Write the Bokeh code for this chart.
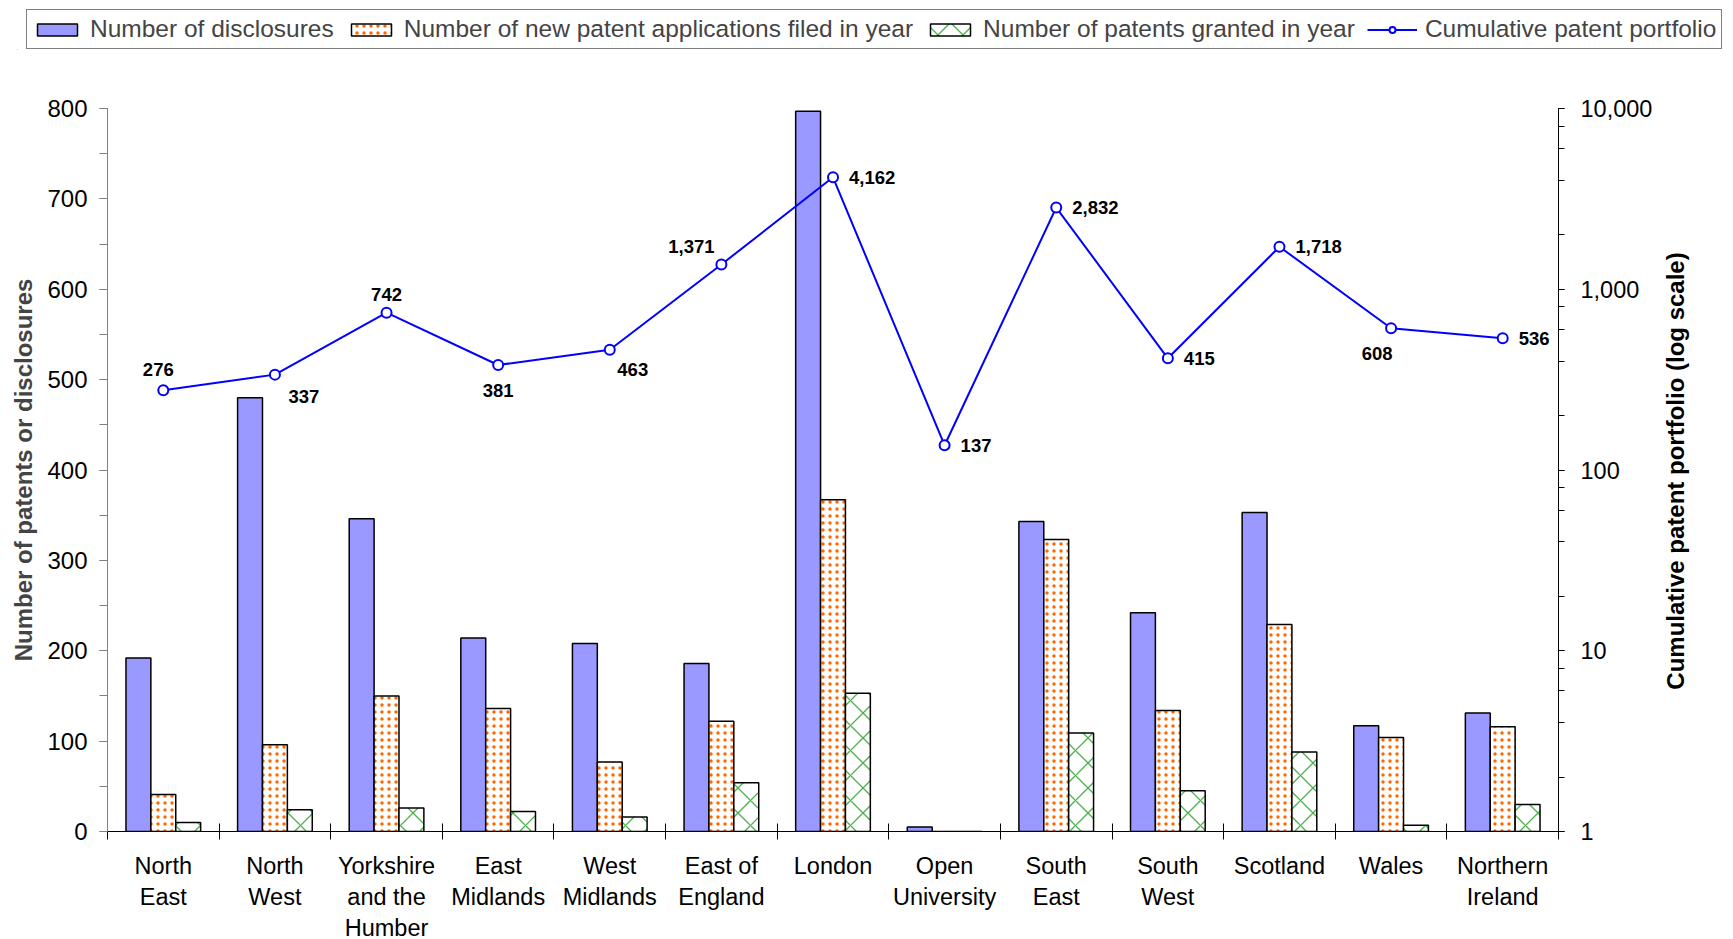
import math
from bokeh.plotting import figure
from bokeh.layouts import column, row
from bokeh.models import (Range1d, LinearAxis, LogAxis, LogScale, FixedTicker,
                          SingleIntervalTicker, LogTicker, NumeralTickFormatter,
                          Legend, LegendItem, ColumnDataSource, LabelSet, Label)
from bokeh.embed import file_html
from bokeh.resources import INLINE
from bokeh.core.properties import value

# ---------------- data ----------------
regions = ["North\nEast", "North\nWest", "Yorkshire\nand the\nHumber", "East\nMidlands",
           "West\nMidlands", "East of\nEngland", "London", "Open\nUniversity",
           "South\nEast", "South\nWest", "Scotland", "Wales", "Northern\nIreland"]
disclosures = [192, 480, 346, 214, 208, 186, 797, 5, 343, 242, 353, 117, 131]
applications = [41, 96, 150, 136, 77, 122, 367, 0, 323, 134, 229, 104, 116]
granted = [10, 24, 26, 22, 16, 54, 153, 0, 109, 45, 88, 7, 30]
portfolio = [276, 337, 742, 381, 463, 1371, 4162, 137, 2832, 415, 1718, 608, 536]

series_names = ["Number of disclosures",
                "Number of new patent applications filed in year",
                "Number of patents granted in year",
                "Cumulative patent portfolio"]
left_title = "Number of patents or disclosures"
right_title = "Cumulative patent portfolio (log scale)"

# label placement for the cumulative values (screen px offsets from marker, dy>0 = down)
label_place = [(-5, -21, "center"), (29, 22, "center"), (0, -18, "center"),
               (0, 26, "center"), (23, 20, "center"), (-30, -18, "center"),
               (16, 0, "left"), (16, 0, "left"), (16, 0, "left"), (16, 0, "left"),
               (16, 0, "left"), (-14, 25, "center"), (16, 0, "left")]

# ---------------- styles ----------------
FONT = "Liberation Sans"
DISC = dict(fill_color="#9999FF", line_color="black", line_width=1.5)
APP = dict(fill_color="white", line_color="black", line_width=1.5,
           hatch_pattern="dot", hatch_color="#FF6600", hatch_scale=7, hatch_weight=6)
GR = dict(fill_color="white", line_color="black", line_width=1.5,
          hatch_pattern="diagonal_cross", hatch_color="#4CB04C", hatch_scale=25,
          hatch_weight=1.3)
LINE = dict(line_color="#0000FF", line_width=2)
PTS = dict(marker="circle", size=10, fill_color="white", line_color="#0000FF", line_width=2)

# ---------------- layout ----------------
TOTAL_W = 1733
LEG_H = 50
RT_W = 78                      # strip at the right that holds the right-hand title
W = TOTAL_W - RT_W
H = 960 - LEG_H
ML, MT, MB = 107, 108 - LEG_H, 129
MR = W - 1559
n = len(regions)
frame_h = H - MT - MB

p = figure(width=W, height=H, x_range=Range1d(0, n), y_range=Range1d(0, 800),
           x_axis_type=None, y_axis_type=None,
           output_backend="svg", toolbar_location=None,
           min_border_left=ML, min_border_right=MR,
           min_border_top=MT, min_border_bottom=MB)
p.outline_line_color = None
p.background_fill_color = "white"
p.border_fill_color = "white"
p.extra_y_ranges = {"log": Range1d(1, 10000)}
p.extra_y_scales = {"log": LogScale()}

# left axis
la = LinearAxis(ticker=SingleIntervalTicker(interval=100, num_minor_ticks=2))
la.axis_line_color = "#808080"
la.major_tick_line_color = "#808080"
la.minor_tick_line_color = "#808080"
la.major_tick_in = 0
la.major_tick_out = 8
la.minor_tick_in = 0
la.minor_tick_out = 8
la.major_label_standoff = 12
la.major_label_text_font = FONT
la.major_label_text_font_size = "24px"
la.major_label_text_color = "black"
la.axis_label = left_title
la.axis_label_text_font = FONT
la.axis_label_text_font_style = "bold"
la.axis_label_text_font_size = "24px"
la.axis_label_standoff = 7
p.add_layout(la, "left")

# right (log) axis
ra = LogAxis(y_range_name="log", ticker=LogTicker(),
             formatter=NumeralTickFormatter(format="0,0"))
ra.axis_line_color = "black"
ra.major_tick_line_color = "black"
ra.minor_tick_line_color = "black"
ra.major_tick_in = 0
ra.major_tick_out = 6
ra.minor_tick_in = 0
ra.minor_tick_out = 6
ra.major_label_standoff = 16
ra.major_label_text_font = FONT
ra.major_label_text_font_size = "23.5px"
ra.major_label_text_color = "black"
p.add_layout(ra, "right")

# bottom axis: category names at centres, separators at boundaries
centers = [i + 0.5 for i in range(n)]
ba = LinearAxis(ticker=FixedTicker(ticks=centers, minor_ticks=list(range(n + 1))))
ba.major_label_overrides = {c: r for c, r in zip(centers, regions)}
ba.axis_line_color = "black"
ba.minor_tick_line_color = "black"
ba.minor_tick_in = 8
ba.minor_tick_out = 8
ba.major_tick_line_color = None
ba.major_tick_in = 0
ba.major_tick_out = 0
ba.major_label_standoff = 13
ba.major_label_text_font = FONT
ba.major_label_text_font_size = "23.5px"
ba.major_label_text_color = "black"
p.add_layout(ba, "below")

# ---------------- bars ----------------
bw = 0.223
p.vbar(x=[c - bw for c in centers], top=disclosures, bottom=0, width=bw, **DISC)
p.vbar(x=centers, top=applications, bottom=0, width=bw, **APP)
p.vbar(x=[c + bw for c in centers], top=granted, bottom=0, width=bw, **GR)

# ---------------- cumulative line ----------------
p.line(centers, portfolio, y_range_name="log", **LINE)
p.scatter(centers, portfolio, y_range_name="log", **PTS)

lab_c = dict(x=[], y=[], t=[], dx=[], dy=[])
lab_l = dict(x=[], y=[], t=[], dx=[], dy=[])
for c, v, (dx, dy, al) in zip(centers, portfolio, label_place):
    d = lab_l if al == "left" else lab_c
    d["x"].append(c); d["y"].append(v); d["t"].append(f"{v:,}")
    d["dx"].append(dx); d["dy"].append(-dy)
for d, al in ((lab_c, "center"), (lab_l, "left")):
    p.add_layout(LabelSet(source=ColumnDataSource(d), x="x", y="y", text="t",
                          x_offset="dx", y_offset="dy", y_range_name="log",
                          text_align=al, text_baseline="middle",
                          text_font=value(FONT), text_font_style="bold",
                          text_font_size="18.5px", text_color="black"))

# ---------------- right title strip ----------------
rt = figure(width=RT_W, height=H, x_range=Range1d(0, RT_W), y_range=Range1d(0, H),
            x_axis_type=None, y_axis_type=None,
            output_backend="svg", toolbar_location=None,
            min_border_left=0, min_border_right=0, min_border_top=0, min_border_bottom=0)
rt.outline_line_color = None
rt.background_fill_color = "white"
rt.border_fill_color = "white"
rt.add_layout(Label(x=1675 - W, y=H - MT - frame_h / 2 - 1, text=right_title,
                    angle=math.pi / 2, text_align="center", text_baseline="middle",
                    text_font=FONT, text_font_style="bold", text_font_size="24px",
                    text_color="black"))

# ---------------- legend strip above the chart ----------------
lg = figure(width=TOTAL_W, height=LEG_H, x_range=Range1d(0, 1), y_range=Range1d(0, 1),
            x_axis_type=None, y_axis_type=None,
            output_backend="svg", toolbar_location=None,
            min_border_left=17, min_border_right=0, min_border_top=0, min_border_bottom=0)
lg.outline_line_color = None
lg.background_fill_color = "white"
lg.border_fill_color = "white"
for fig in (lg, p, rt):
    try:
        fig.frame_align = False
    except Exception:
        pass

# off-screen stand-ins that only lend their style to the legend keys
off = dict(x=[-10.0], top=[0.0])
k_disc = lg.vbar(x="x", top="top", width=0.1, source=ColumnDataSource(off), **DISC)
k_app = lg.vbar(x="x", top="top", width=0.1, source=ColumnDataSource(off), **APP)
k_gr = lg.vbar(x="x", top="top", width=0.1, source=ColumnDataSource(off), **GR)
k_line = lg.line(x=[-10.0, -11.0], y=[0.0, 0.0], **LINE)
k_pts = lg.scatter(x=[-10.0], y=[0.0], **PTS)

legend = Legend(items=[
    LegendItem(label=series_names[0], renderers=[k_disc]),
    LegendItem(label=series_names[1], renderers=[k_app]),
    LegendItem(label=series_names[2], renderers=[k_gr]),
    LegendItem(label=series_names[3], renderers=[k_line, k_pts]),
], orientation="horizontal", location="top_left")
legend.glyph_width = 50
legend.glyph_height = 15
legend.label_standoff = 8
legend.spacing = 12
legend.padding = 5
legend.margin = 9
legend.label_text_font = FONT
legend.label_text_font_size = "24.5px"
legend.border_line_color = "black"
legend.border_line_width = 1
legend.background_fill_color = "white"
legend.background_fill_alpha = 1
lg.add_layout(legend, "center")

layout = column(lg, row(p, rt, spacing=0), spacing=0)
open("out.html", "w").write(file_html(layout, INLINE))
